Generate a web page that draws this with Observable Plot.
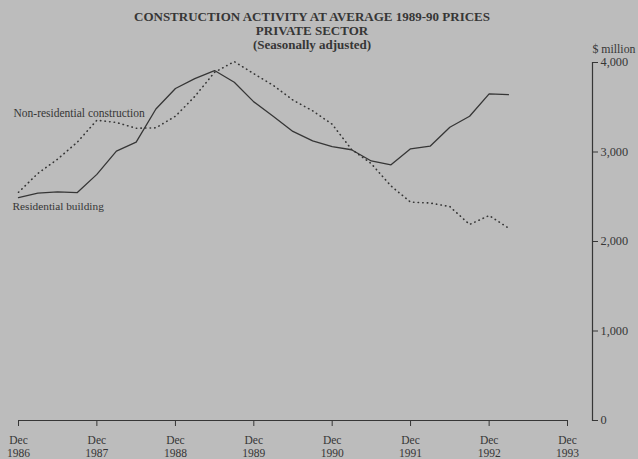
<!DOCTYPE html>
<html><head><meta charset="utf-8">
<script src="https://cdn.jsdelivr.net/npm/d3@7"></script>
<script src="https://cdn.jsdelivr.net/npm/@observablehq/plot@0.6"></script>
<style>html,body{margin:0;padding:0;background:#bcbcbc;overflow:hidden;}</style>
</head><body><div id="chart"></div>
<script>
const titleLines = ["CONSTRUCTION ACTIVITY AT AVERAGE 1989-90 PRICES", "PRIVATE SECTOR", "(Seasonally adjusted)"];
const quarters = ["Dec 1986","Mar 1987","Jun 1987","Sep 1987","Dec 1987","Mar 1988","Jun 1988","Sep 1988","Dec 1988","Mar 1989","Jun 1989","Sep 1989","Dec 1989","Mar 1990","Jun 1990","Sep 1990","Dec 1990","Mar 1991","Jun 1991","Sep 1991","Dec 1991","Mar 1992","Jun 1992","Sep 1992","Dec 1992","Mar 1993"];
const residential = [2490,2540,2555,2547,2750,3010,3110,3480,3710,3820,3910,3780,3560,3400,3230,3125,3060,3025,2900,2857,3036,3065,3277,3400,3650,3640];
const nonResidential = [2550,2760,2920,3110,3355,3330,3265,3270,3400,3620,3890,4010,3875,3745,3580,3460,3310,3030,2870,2620,2440,2430,2390,2190,2290,2150];
const xTickLabels = ["Dec 1986","Dec 1987","Dec 1988","Dec 1989","Dec 1990","Dec 1991","Dec 1992","Dec 1993"];
const yTicks = [0,1000,2000,3000,4000];
const unitLabel = "$ million";
const seriesLabels = {residential: "Residential building", nonResidential: "Non-residential construction"};

const parse = d3.utcParse("%b %Y");
const data = quarters.map((q, i) => ({date: parse(q), residential: residential[i], nonResidential: nonResidential[i]}));
const ink = "#363636";

const chart = Plot.plot({
  width: 638, height: 459,
  marginLeft: 18, marginRight: 71, marginTop: 62, marginBottom: 39,
  style: {background: "#bcbcbc", color: ink, fontFamily: "'Liberation Serif', 'DejaVu Serif', serif", fontSize: "11px"},
  x: {type: "utc", domain: [parse(xTickLabels[0]), parse(xTickLabels[xTickLabels.length - 1])]},
  y: {domain: [0, 4000]},
  marks: [
    Plot.ruleY([0], {stroke: ink, strokeWidth: 1.2}),
    Plot.axisX({ticks: xTickLabels.map(parse), tickSize: 6, tickPadding: 8, tickFormat: d3.utcFormat("%b\n%Y"), lineHeight: 1.12, fontSize: 11.5, stroke: ink, label: null}),
    Plot.frame({anchor: "right", dx: 25, stroke: ink, strokeWidth: 1.2}),
    Plot.axisY({anchor: "right", ticks: yTicks, dx: 25, tickSize: 5, tickPadding: 3, tickFormat: d3.format(","), stroke: ink, label: null, fontSize: 12.3}),
    Plot.text([unitLabel], {frameAnchor: "top-right", dx: 25, dy: -18, textAnchor: "start", fontSize: 11.8}),
    Plot.line(data, {x: "date", y: "residential", stroke: ink, strokeWidth: 1.3}),
    Plot.line(data, {x: "date", y: "nonResidential", stroke: ink, strokeWidth: 1.6, strokeDasharray: "0.4,4.2", strokeLinecap: "round"}),
    Plot.text([data[0]], {x: "date", y: "residential", text: () => seriesLabels.residential, textAnchor: "start", dx: -6, dy: 9, fontSize: 11.3}),
    Plot.text([data[0]], {x: "date", y: "nonResidential", text: () => seriesLabels.nonResidential, textAnchor: "start", dx: -5, dy: -79, fontSize: 11.5}),
    Plot.text([titleLines.join("\n")], {frameAnchor: "top", dx: 19, dy: -32, lineAnchor: "middle", lineHeight: 1.08, fontWeight: "bold", fontSize: 13})
  ]
});
document.getElementById("chart").appendChild(chart);
</script>
</body></html>
